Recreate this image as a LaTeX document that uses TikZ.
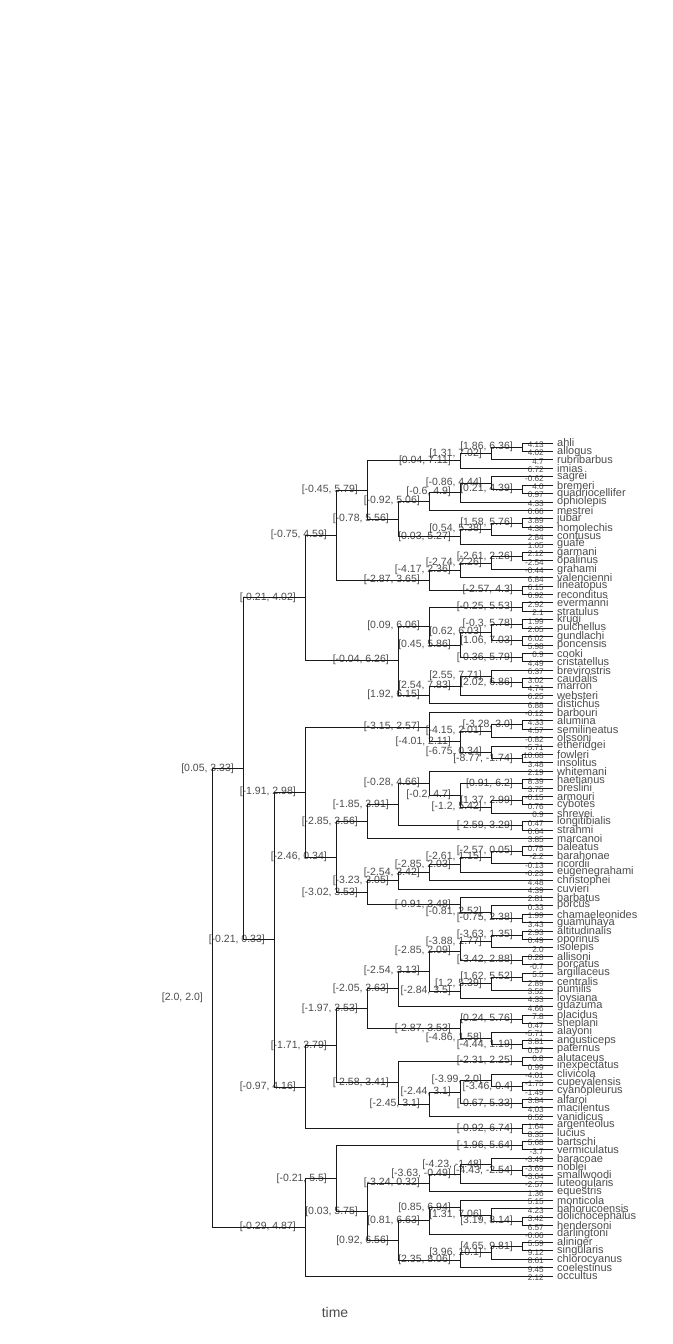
\documentclass[tikz,border=0pt]{standalone}
\usepackage{fontspec}
\setmainfont{Liberation Sans}
\usetikzlibrary{calc}

\tikzset{
  branch/.style={draw=black!90, line width=0.8pt},
  cilabel/.style={anchor=base east, inner sep=0pt, xshift=-9pt, yshift=-2.5pt,
    text=black!70, font=\fontsize{10.5}{10.5}\selectfont},
  tipval/.style={cilabel, yshift=-2pt, font=\fontsize{8.2}{8.2}\selectfont},
  tipname/.style={anchor=west, inner sep=0pt, xshift=4pt, text=black!70,
    font=\fontsize{11}{11}\selectfont},
}

% clade: name, height, first child, second child, interval
\newcommand{\clade}[5]{%
  \coordinate (#1-mid) at ($(#3)!0.5!(#4)$);
  \coordinate (#1) at ({553-31*#2},0 |- #1-mid);
  \draw[branch] (#3) -- (#1 |- #3) -- (#1 |- #4) -- (#4);
  \node[cilabel] at (#1) {#5};
}

\begin{document}
\begin{tikzpicture}[x=1pt,y=-1pt]
\useasboundingbox (0,0) rectangle (672,1344);

% tips
\foreach \sp/\val [count=\i] in {ahli/4.13, allogus/4.02, rubribarbus/4.7, imias/6.72,
  sagrei/-0.62, bremeri/4.0, quadriocellifer/0.97, ophiolepis/4.33, mestrei/0.66,
  jubar/3.89, homolechis/4.38, confusus/2.84, guafe/1.05, garmani/2.12, opalinus/-2.54,
  grahami/-0.44, valencienni/6.84, lineatopus/6.15, reconditus/6.92, evermanni/2.92,
  stratulus/2.1, krugi/1.99, pulchellus/2.05, gundlachi/6.02, poncensis/5.98, cooki/0.9,
  cristatellus/4.49, brevirostris/6.37, caudalis/3.02, marron/4.74, websteri/6.25,
  distichus/6.88, barbouri/-0.12, alumina/4.33, semilineatus/4.57, olssoni/-0.82,
  etheridgei/-5.71, fowleri/-10.68, insolitus/3.48, whitemani/2.19, haetianus/8.39,
  breslini/3.75, armouri/-0.15, cybotes/0.76, shrevei/0.9, longitibialis/0.47,
  strahmi/0.64, marcanoi/3.85, baleatus/0.75, barahonae/-2.2, ricordii/-0.13,
  eugenegrahami/-0.23, christophei/4.48, cuvieri/4.39, barbatus/2.81, porcus/0.33,
  chamaeleonides/1.99, guamuhaya/3.43, altitudinalis/2.93, oporinus/0.49, isolepis/2.0,
  allisoni/0.28, porcatus/-0.7, argillaceus/5.5, centralis/2.89, pumilis/3.52,
  loysiana/4.33, guazuma/4.66, placidus/7.8, sheplani/0.47, alayoni/-5.71,
  angusticeps/3.81, paternus/0.57, alutaceus/0.8, inexpectatus/0.99, clivicola/-4.01,
  cupeyalensis/-1.75, cyanopleurus/-1.49, alfaroi/3.84, macilentus/4.03, vanidicus/0.52,
  argenteolus/1.64, lucius/8.35, bartschi/5.68, vermiculatus/-3.7, baracoae/-3.49,
  noblei/-3.69, smallwoodi/-3.64, luteogularis/-2.57, equestris/1.36, monticola/5.15,
  bahorucoensis/4.23, dolichocephalus/3.42, hendersoni/6.57, darlingtoni/-0.06,
  aliniger/5.59, singularis/9.12, chlorocyanus/8.61, coelestinus/9.45, occultus/2.12}{
  \coordinate (\sp) at (553,{443+(\i-1)*8.414});
  \node[tipval] at (\sp) {\val};
  \node[tipname] at (\sp) {\sp};
}

% first big clade
\clade{n1}{1}{ahli}{allogus}{[1.86, 6.36]}
\clade{n2}{2}{n1}{rubribarbus}{[1.31, 7.02]}
\clade{n3}{3}{n2}{imias}{[0.04, 7.11]}
\clade{n4}{1}{bremeri}{quadriocellifer}{[0.21, 4.39]}
\clade{n5}{2}{sagrei}{n4}{[-0.86, 4.44]}
\clade{n6}{3}{n5}{ophiolepis}{[-0.6, 4.9]}
\clade{n7}{4}{n6}{mestrei}{[-0.92, 5.06]}
\clade{n8}{1}{jubar}{homolechis}{[1.58, 5.76]}
\clade{n9}{2}{n8}{confusus}{[0.54, 5.38]}
\clade{n10}{3}{n9}{guafe}{[0.03, 5.27]}
\clade{n11}{5}{n7}{n10}{[-0.78, 5.56]}
\clade{n12}{6}{n3}{n11}{[-0.45, 5.79]}
\clade{n13}{1}{garmani}{opalinus}{[-2.61, 2.26]}
\clade{n14}{2}{n13}{grahami}{[-2.74, 2.26]}
\clade{n15}{3}{n14}{valencienni}{[-4.17, 2.36]}
\clade{n16}{1}{lineatopus}{reconditus}{[-2.57, 4.3]}
\clade{n17}{4}{n15}{n16}{[-2.87, 3.65]}
\clade{n18}{7}{n12}{n17}{[-0.75, 4.59]}
\clade{n19}{1}{evermanni}{stratulus}{[-0.25, 5.53]}
\clade{n20}{1}{krugi}{pulchellus}{[-0.3, 5.78]}
\clade{n21}{1}{gundlachi}{poncensis}{[1.06, 7.03]}
\clade{n22}{2}{n20}{n21}{[0.62, 6.03]}
\clade{n23}{1}{cooki}{cristatellus}{[-0.36, 5.79]}
\clade{n24}{3}{n22}{n23}{[0.45, 5.86]}
\clade{n25}{4}{n19}{n24}{[0.09, 6.06]}
\clade{n26}{1}{caudalis}{marron}{[2.02, 6.86]}
\clade{n27}{2}{brevirostris}{n26}{[2.55, 7.71]}
\clade{n28}{3}{n27}{websteri}{[2.54, 7.83]}
\clade{n29}{4}{n28}{distichus}{[1.92, 6.15]}
\clade{n30}{5}{n25}{n29}{[-0.04, 6.26]}
\clade{n31}{8}{n18}{n30}{[-0.21, 4.02]}

% middle clade
\clade{n32}{1}{alumina}{semilineatus}{[-3.28, 3.0]}
\clade{n33}{2}{n32}{olssoni}{[-4.15, 2.01]}
\clade{n34}{1}{fowleri}{insolitus}{[-8.77, -1.74]}
\clade{n35}{2}{etheridgei}{n34}{[-6.75, 0.34]}
\clade{n36}{3}{n33}{n35}{[-4.01, 2.11]}
\clade{n37}{4}{barbouri}{n36}{[-3.15, 2.57]}
\clade{n38}{1}{haetianus}{breslini}{[0.91, 6.2]}
\clade{n39}{1}{armouri}{cybotes}{[1.37, 2.99]}
\clade{n40}{2}{n39}{shrevei}{[-1.2, 5.42]}
\clade{n41}{3}{n38}{n40}{[-0.2, 4.7]}
\clade{n42}{4}{whitemani}{n41}{[-0.28, 4.66]}
\clade{n43}{1}{longitibialis}{strahmi}{[-2.59, 3.29]}
\clade{n44}{5}{n42}{n43}{[-1.85, 3.91]}
\clade{n45}{6}{n44}{marcanoi}{[-2.85, 3.56]}
\clade{n46}{1}{baleatus}{barahonae}{[-2.57, 0.05]}
\clade{n47}{2}{n46}{ricordii}{[-2.61, 1.15]}
\clade{n48}{3}{n47}{eugenegrahami}{[-2.85, 2.03]}
\clade{n49}{4}{n48}{christophei}{[-2.54, 3.42]}
\clade{n50}{5}{n49}{cuvieri}{[-3.23, 3.05]}
\clade{n51}{1}{chamaeleonides}{guamuhaya}{[-0.75, 2.38]}
\clade{n52}{2}{porcus}{n51}{[-0.81, 2.52]}
\clade{n53}{3}{barbatus}{n52}{[-0.91, 3.48]}
\clade{n54}{6}{n50}{n53}{[-3.02, 3.53]}
\clade{n55}{7}{n45}{n54}{[-2.46, 0.34]}
\clade{n56}{8}{n37}{n55}{[-1.91, 2.98]}
\clade{n57}{1}{altitudinalis}{oporinus}{[-3.63, 1.35]}
\clade{n58}{2}{n57}{isolepis}{[-3.88, 1.77]}
\clade{n59}{1}{allisoni}{porcatus}{[-3.42, 2.88]}
\clade{n60}{3}{n58}{n59}{[-2.85, 2.09]}
\clade{n61}{1}{argillaceus}{centralis}{[1.62, 5.52]}
\clade{n62}{2}{n61}{pumilis}{[1.2, 5.39]}
\clade{n63}{3}{n62}{loysiana}{[-2.84, 3.5]}
\clade{n64}{4}{n60}{n63}{[-2.54, 3.13]}
\clade{n65}{5}{n64}{guazuma}{[-2.05, 3.63]}
\clade{n66}{1}{placidus}{sheplani}{[0.24, 5.76]}
\clade{n67}{1}{angusticeps}{paternus}{[-4.44, 1.19]}
\clade{n68}{2}{alayoni}{n67}{[-4.86, 1.58]}
\clade{n69}{3}{n66}{n68}{[-2.87, 3.53]}
\clade{n70}{6}{n65}{n69}{[-1.97, 3.53]}
\clade{n71}{1}{alutaceus}{inexpectatus}{[-2.31, 2.25]}
\clade{n72}{1}{cupeyalensis}{cyanopleurus}{[-3.46, 0.4]}
\clade{n73}{2}{clivicola}{n72}{[-3.99, 2.0]}
\clade{n74}{1}{alfaroi}{macilentus}{[-0.67, 5.33]}
\clade{n75}{3}{n73}{n74}{[-2.44, 3.1]}
\clade{n76}{4}{n75}{vanidicus}{[-2.45, 3.1]}
\clade{n77}{5}{n71}{n76}{[-2.58, 3.41]}
\clade{n78}{7}{n70}{n77}{[-1.71, 3.79]}
\clade{n79}{1}{argenteolus}{lucius}{[-0.92, 6.74]}
\clade{n80}{8}{n78}{n79}{[-0.97, 4.16]}
\clade{n81}{9}{n56}{n80}{[-0.21, 0.33]}
\clade{n82}{10}{n31}{n81}{[0.05, 3.33]}

% bottom clade
\clade{n83}{1}{bartschi}{vermiculatus}{[-1.96, 5.64]}
\clade{n84}{1}{noblei}{smallwoodi}{[-4.43, -2.54]}
\clade{n85}{2}{baracoae}{n84}{[-4.23, -1.48]}
\clade{n86}{3}{n85}{luteogularis}{[-3.63, -0.49]}
\clade{n87}{4}{n86}{equestris}{[-3.24, 0.32]}
\clade{n88}{1}{dolichocephalus}{hendersoni}{[3.19, 8.14]}
\clade{n89}{2}{bahorucoensis}{n88}{[1.31, 7.06]}
\clade{n90}{3}{monticola}{n89}{[0.85, 6.94]}
\clade{n91}{4}{n90}{darlingtoni}{[0.81, 6.63]}
\clade{n92}{1}{aliniger}{singularis}{[4.65, 9.81]}
\clade{n93}{2}{n92}{chlorocyanus}{[3.96, 10.1]}
\clade{n94}{3}{n93}{coelestinus}{[2.35, 8.06]}
\clade{n95}{5}{n91}{n94}{[0.92, 6.56]}
\clade{n96}{6}{n87}{n95}{[0.03, 5.75]}
\clade{n97}{7}{n83}{n96}{[-0.21, 5.5]}
\clade{n98}{8}{n97}{occultus}{[-0.29, 4.87]}

% root
\clade{root}{11}{n82}{n98}{[2.0, 2.0]}

\node[text=black!70, font=\fontsize{14}{14}\selectfont] (timelab) at (335,1312) {time};
\end{tikzpicture}
\end{document}
